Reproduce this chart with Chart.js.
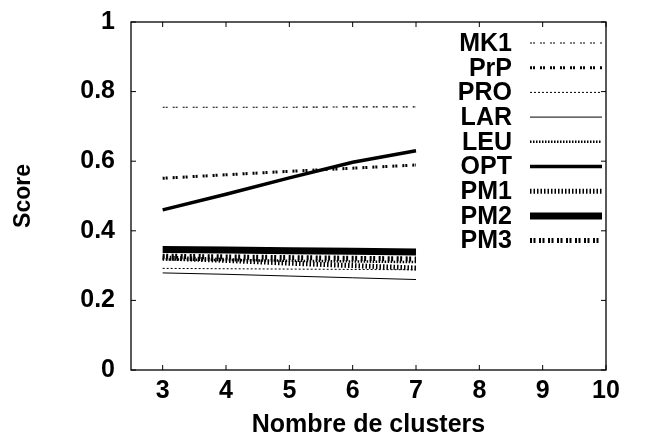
<!DOCTYPE html>
<html>
<head>
<meta charset="utf-8">
<script src="https://cdn.jsdelivr.net/npm/chart.js@4/dist/chart.umd.min.js"></script>
<style>
  html, body { margin: 0; padding: 0; background: #fff; }
  #wrap { width: 650px; height: 444px; position: relative; }
</style>
</head>
<body>
<div id="wrap"><canvas id="scoreChart"></canvas></div>
<script>
// Score vs number of clusters, one line per method

const clusters = [3, 4, 5, 6, 7];
const xTicks = [3, 4, 5, 6, 7, 8, 9, 10];
const yTicks = [0, 0.2, 0.4, 0.6, 0.8, 1];

const labels = ['MK1', 'PrP', 'PRO', 'LAR', 'LEU', 'OPT', 'PM1', 'PM2', 'PM3'];

const mk1 = [0.755, 0.755, 0.755, 0.756, 0.756];
const prp = [0.551, 0.561, 0.571, 0.580, 0.589];
const pro = [0.292, 0.291, 0.290, 0.289, 0.288];
const lar = [0.279, 0.275, 0.270, 0.265, 0.260];
const leu = [0.318, 0.316, 0.314, 0.312, 0.310];
const opt = [0.460, 0.505, 0.552, 0.597, 0.630];
const pm1 = [0.322, 0.315, 0.307, 0.300, 0.293];
const pm2 = [0.346, 0.345, 0.343, 0.341, 0.339];
const pm3 = [0.327, 0.325, 0.323, 0.321, 0.319];

const FONT = "'Liberation Sans', Arial, Helvetica, sans-serif";
const FS = 25;

// line looks, gnuplot-ish
const looks = {
  MK1: { w: 1.2, dash: [2, 1, 2, 5] },
  PrP: { w: 3, dash: [2, 1, 2, 5] },
  PRO: { w: 1, dash: [2, 2] },
  LAR: { w: 1, dash: [] },
  LEU: { w: 2.5, dash: [1.5, 1.5] },
  OPT: { w: 3.5, dash: [] },
  PM1: { w: 5, dash: [1.5, 2] },
  PM2: { w: 7, dash: [] },
  PM3: { w: 5, dash: [2, 1.5, 2, 3.5] }
};

const series = [mk1, prp, pro, lar, leu, opt, pm1, pm2, pm3];

function toPoints(vals){
  return vals.map((v, i) => ({ x: clusters[i], y: v }));
}

const datasets = labels.map((name, i) => ({
  label: name,
  data: toPoints(series[i]),
  borderColor: '#000',
  borderWidth: looks[name].w,
  borderDash: looks[name].dash,
  borderCapStyle: 'butt',
  pointRadius: 0,
  tension: 0,
  fill: false
}));

// frame with inward ticks on all four sides + legend inside the plot
const framePlugin = {
  id: 'frame',
  afterDraw(chart){
    const {ctx, chartArea: a, scales} = chart;
    ctx.save();
    ctx.strokeStyle = '#000';
    ctx.lineWidth = 1.3;
    ctx.setLineDash([]);
    ctx.strokeRect(a.left, a.top, a.right - a.left, a.bottom - a.top);
    ctx.lineWidth = 1;
    const tl = 5;
    for (const t of xTicks){
      const px = scales.x.getPixelForValue(t);
      ctx.beginPath();
      ctx.moveTo(px, a.bottom); ctx.lineTo(px, a.bottom - tl);
      ctx.moveTo(px, a.top); ctx.lineTo(px, a.top + tl);
      ctx.stroke();
    }
    for (const t of yTicks){
      const py = scales.y.getPixelForValue(t);
      ctx.beginPath();
      ctx.moveTo(a.left, py); ctx.lineTo(a.left + tl, py);
      ctx.moveTo(a.right, py); ctx.lineTo(a.right - tl, py);
      ctx.stroke();
    }

    // legend
    ctx.font = 'bold ' + FS + 'px ' + FONT;
    ctx.textAlign = 'right';
    ctx.textBaseline = 'middle';
    ctx.fillStyle = '#000';
    const textRight = 512, x0 = 530, x1 = 602;
    const top = 43, step = 24.7;
    chart.data.datasets.forEach((ds, i) => {
      const y = top + i * step;
      ctx.fillText(ds.label, textRight, y + 1);
      ctx.beginPath();
      ctx.lineWidth = ds.borderWidth;
      ctx.lineCap = 'butt';
      ctx.setLineDash(ds.borderDash);
      ctx.moveTo(x0, y); ctx.lineTo(x1, y);
      ctx.stroke();
    });
    ctx.restore();
  }
};

new Chart(document.getElementById('scoreChart'), {
  type: 'line',
  data: { datasets },
  plugins: [framePlugin],
  options: {
    responsive: true,
    maintainAspectRatio: false,
    animation: false,
    layout: { padding: { left: 0, right: 44, top: 22, bottom: 0 } },
    plugins: { legend: { display: false }, tooltip: { enabled: false } },
    scales: {
      x: {
        type: 'linear',
        min: 2.5, max: 10,
        afterFit: s => { s.height = 74; },
        afterBuildTicks: s => { s.ticks = xTicks.map(v => ({ value: v })); },
        grid: { display: false, drawTicks: false },
        border: { display: false },
        ticks: { color: '#000', font: { family: FONT, size: FS, weight: 'bold' }, padding: 6, maxRotation: 0 },
        title: { display: true, text: 'Nombre de clusters', color: '#000',
                 font: { family: FONT, size: FS, weight: 'bold' }, padding: { top: 0, bottom: 4 } }
      },
      y: {
        min: 0, max: 1,
        afterFit: s => { s.width = 131; s.paddingTop = 0; s.paddingBottom = 0; },
        afterBuildTicks: s => { s.ticks = yTicks.map(v => ({ value: v })); },
        grid: { display: false, drawTicks: false },
        border: { display: false },
        ticks: { color: '#000', font: { family: FONT, size: FS, weight: 'bold' }, padding: 16,
                 callback: v => String(v) },
        title: { display: true, text: 'Score', color: '#000',
                 font: { family: FONT, size: 23, weight: 'bold' }, padding: { top: 10, bottom: 0 } }
      }
    }
  }
});
</script>
</body>
</html>
